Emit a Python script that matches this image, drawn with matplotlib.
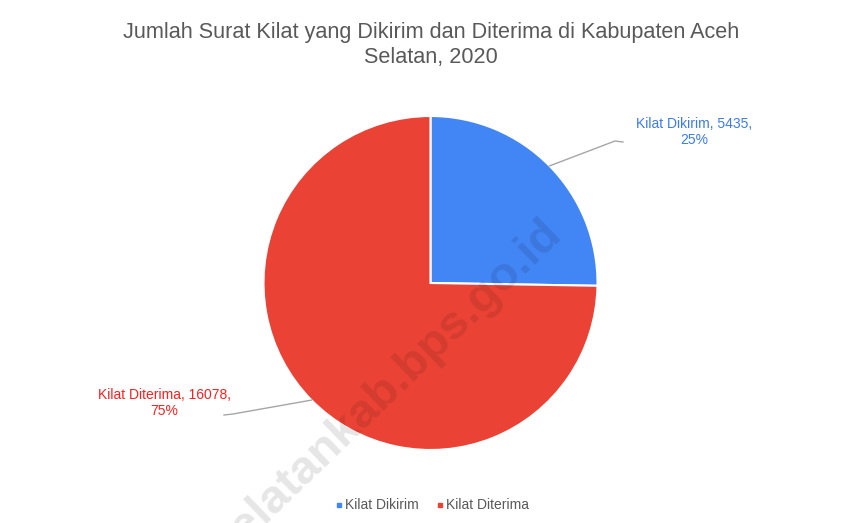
import numpy as np
import matplotlib.pyplot as plt

# data
categories = ["Kilat Dikirim", "Kilat Diterima"]
values = [5435, 16078]
percents = ["25%", "75%"]
slice_colors = ["#4285F4", "#EA4335"]
label_colors = ["#3C7BEF", "#FF1E1E"]
title = "Jumlah Surat Kilat yang Dikirim dan Diterima di Kabupaten Aceh\nSelatan, 2020"

plt.rcParams["font.family"] = ["Liberation Sans", "DejaVu Sans"]

W, H = 848, 523
fig = plt.figure(figsize=(W / 100, H / 100), dpi=100)
ax = fig.add_axes([0, 0, 1, 1])

cx, cy, r = 430.5, 240, 167
wedges, _ = ax.pie(values, colors=slice_colors, startangle=90, counterclock=False,
                   center=(cx, cy), radius=r, frame=True,
                   wedgeprops=dict(edgecolor="white", linewidth=1.5))
ax.set_xlim(0, W)
ax.set_ylim(0, H)
ax.set_aspect("equal")
ax.axis("off")

# data labels with leader lines
text_pos = [(694, 391), (164, 120)]
line_end = [(623, 381), (224, 108)]
for w, v, p, col, tp, le, name in zip(wedges, values, percents, label_colors,
                                      text_pos, line_end, categories):
    ang = np.deg2rad((w.theta1 + w.theta2) / 2)
    x0, y0 = cx + r * np.cos(ang), cy + r * np.sin(ang)
    kx = le[0] - 8 if le[0] > cx else le[0] + 9
    ax.plot([x0, kx, le[0]], [y0, le[1] + 1, le[1]], color="#a6a6a6", lw=1)
    ax.text(tp[0], tp[1], f"{name}, {v},\n{p}", color=col, fontsize=10,
            ha="center", va="center", linespacing=1.15)

ax.text(431, H - 45, title, ha="center", va="center", fontsize=15.6,
        color="#595959", linespacing=1.2)

# legend
for i, (name, col) in enumerate(zip(categories, slice_colors)):
    lx = [339, 440][i]
    ax.plot([lx], [H - 505], marker="s", ms=3.5, color=col, ls="none")
    ax.text(lx + 6, H - 505, name, fontsize=10, color="#595959", va="center")

# watermark
ax.text(540, H - 212, "acehselatankab.bps.go.id", fontsize=34, fontweight="bold",
        color="black", alpha=0.1, rotation=44, rotation_mode="anchor",
        ha="right", va="top")

fig.savefig("out.png", dpi=100)
